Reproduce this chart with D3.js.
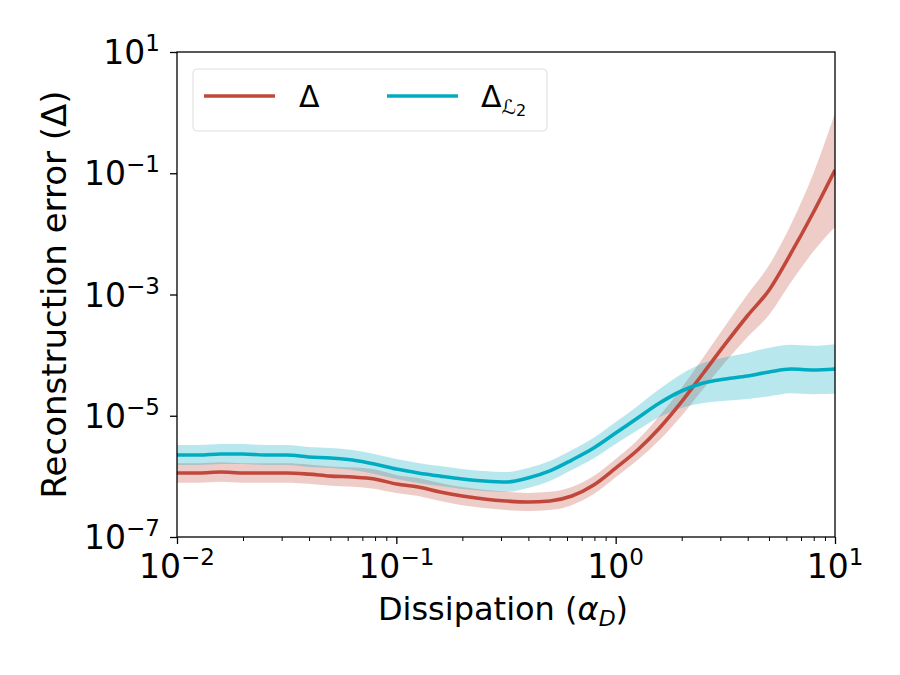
<!DOCTYPE html>
<html>
<head>
<meta charset="UTF-8">
<title>Reconstruction error</title>
<script src="https://cdn.jsdelivr.net/npm/d3@7"></script>
<style>
  body { margin: 0; background: #fff; }
  text { font-family: "DejaVu Sans", sans-serif; fill: #000; }
</style>
</head>
<body>
<div id="app"></div>
<script>
    // dissipation values (log10 spaced, 10^-2 .. 10^1)
    var logAlpha = d3.range(-2, 1.001, 0.1);
    // reconstruction error, mean curves
    var delta = [1.14e-6, 1.14e-6, 1.18e-6, 1.14e-6, 1.14e-6, 1.14e-6, 1.09e-6, 1.01e-6, 9.77e-7, 9.06e-7,
                 7.48e-7, 6.68e-7, 5.52e-7, 4.74e-7, 4.24e-7, 3.93e-7, 3.78e-7, 3.93e-7, 4.74e-7, 7.21e-7,
                 1.37e-6, 2.72e-6, 6.28e-6, 1.69e-5, 5.07e-5, 1.53e-4, 4.42e-4, 1.19e-3, 4.84e-3, 2.21e-2, 1.13e-1];
    var deltaL2 = [2.25e-6, 2.25e-6, 2.34e-6, 2.34e-6, 2.25e-6, 2.25e-6, 2.09e-6, 2.01e-6, 1.86e-6, 1.60e-6,
                   1.32e-6, 1.14e-6, 1.01e-6, 9.06e-7, 8.39e-7, 8.07e-7, 9.40e-7, 1.23e-6, 1.86e-6, 2.94e-6,
                   5.19e-6, 9.18e-6, 1.62e-5, 2.56e-5, 3.47e-5, 4.04e-5, 4.53e-5, 5.27e-5, 5.90e-5, 5.69e-5, 5.90e-5];
    // band half-width, in decades
    var deltaSpread = [0.16, 0.16, 0.16, 0.16, 0.16, 0.16, 0.16, 0.16, 0.16, 0.16,
                       0.15, 0.15, 0.15, 0.15, 0.15, 0.15, 0.15, 0.15, 0.15, 0.15,
                       0.15, 0.165, 0.2, 0.23, 0.26, 0.3, 0.35, 0.41, 0.48, 0.64, 0.94];
    var deltaL2Spread = [0.165, 0.165, 0.165, 0.165, 0.165, 0.165, 0.165, 0.165, 0.165, 0.165,
                         0.165, 0.165, 0.165, 0.165, 0.165, 0.165, 0.165, 0.165, 0.165, 0.17,
                         0.18, 0.2, 0.23, 0.28, 0.33, 0.36, 0.38, 0.4, 0.4, 0.4, 0.41];
    var xTicks = [1e-2, 1e-1, 1e0, 1e1];
    var yTicks = [1e-7, 1e-5, 1e-3, 1e-1, 1e1];

    var red = '#c1473b', cyan = '#00acc1';
    var W = 900, H = 675;
    var m = {left: 177, right: 65, top: 52, bottom: 138};

    var svg = d3.select('#app').append('svg').attr('width', W).attr('height', H);

    var x = d3.scaleLog().domain([1e-2, 1e1]).range([m.left, W - m.right]);
    var y = d3.scaleLog().domain([1e-7, 1e1]).range([H - m.bottom, m.top]);

    svg.append('clipPath').attr('id', 'clip')
        .append('rect').attr('x', m.left).attr('y', m.top)
        .attr('width', W - m.left - m.right).attr('height', H - m.top - m.bottom);

    function rows(vals, spread) {
        return logAlpha.map(function(l, i) {
            return {a: Math.pow(10, l), v: vals[i], lo: vals[i] / Math.pow(10, spread[i]), hi: vals[i] * Math.pow(10, spread[i])};
        });
    }
    var series = [
        {data: rows(delta, deltaSpread), color: red},
        {data: rows(deltaL2, deltaL2Spread), color: cyan}
    ];

    var area = d3.area().x(function(d){ return x(d.a); })
        .y0(function(d){ return y(d.lo); }).y1(function(d){ return y(d.hi); })
        .curve(d3.curveMonotoneX);
    var line = d3.line().x(function(d){ return x(d.a); }).y(function(d){ return y(d.v); })
        .curve(d3.curveMonotoneX);

    var plot = svg.append('g').attr('clip-path', 'url(#clip)');
    series.forEach(function(s) {
        plot.append('path').attr('d', area(s.data)).attr('fill', s.color).attr('opacity', 0.28);
    });
    series.forEach(function(s) {
        plot.append('path').attr('d', line(s.data)).attr('fill', 'none')
            .attr('stroke', s.color).attr('stroke-width', 3.6);
    });

    // axes
    var minorX = [];
    [1e-2, 1e-1, 1].forEach(function(b){ for (var k = 2; k < 10; k++) minorX.push(b * k); });
    svg.append('g').attr('transform', 'translate(0,' + (H - m.bottom) + ')')
        .call(d3.axisBottom(x).tickValues(minorX).tickSize(4).tickFormat(''))
        .call(function(g){ g.select('.domain').remove(); g.selectAll('line').attr('stroke-width', 1); });
    svg.append('g').attr('transform', 'translate(0,' + (H - m.bottom) + ')')
        .call(d3.axisBottom(x).tickValues(xTicks).tickSize(7).tickFormat(''))
        .call(function(g){ g.select('.domain').remove(); g.selectAll('line').attr('stroke-width', 1.3); });
    svg.append('g').attr('transform', 'translate(' + m.left + ',0)')
        .call(d3.axisLeft(y).tickValues(yTicks).tickSize(7).tickFormat(''))
        .call(function(g){ g.select('.domain').remove(); g.selectAll('line').attr('stroke-width', 1.3); });

    svg.append('rect').attr('x', m.left).attr('y', m.top)
        .attr('width', W - m.left - m.right).attr('height', H - m.top - m.bottom)
        .attr('fill', 'none').attr('stroke', '#000').attr('stroke-width', 1.3);

    function powLabel(sel, v) {
        var e = Math.round(Math.log10(v));
        sel.append('tspan').text('10');
        sel.append('tspan').attr('dy', -13).attr('font-size', 23).text(e < 0 ? '\u2212' + (-e) : e);
    }
    xTicks.forEach(function(v) {
        var t = svg.append('text').attr('x', x(v)).attr('y', 578)
            .attr('text-anchor', 'middle').attr('font-size', 33);
        powLabel(t, v);
    });
    yTicks.forEach(function(v) {
        var t = svg.append('text').attr('x', m.left - 17).attr('y', y(v) + 12)
            .attr('text-anchor', 'end').attr('font-size', 33);
        powLabel(t, v);
    });

    // axis titles
    var xl = svg.append('text').attr('x', 503).attr('y', 620)
        .attr('text-anchor', 'middle').attr('font-size', 32);
    xl.append('tspan').text('Dissipation (');
    xl.append('tspan').attr('font-style', 'italic').text('\u03b1');
    xl.append('tspan').attr('font-style', 'italic').attr('font-size', 22).attr('dy', 6).text('D');
    xl.append('tspan').attr('dy', -6).text(')');

    svg.append('text').attr('transform', 'translate(66,' + ((m.top + H - m.bottom) / 2) + ') rotate(-90)')
        .attr('text-anchor', 'middle').attr('font-size', 34).text('Reconstruction error (\u0394)');

    // legend
    var lg = svg.append('g');
    lg.append('rect').attr('x', 193).attr('y', 69).attr('width', 354).attr('height', 62).attr('rx', 4)
        .attr('fill', '#fff').attr('fill-opacity', 0.8).attr('stroke', '#ddd').attr('stroke-width', 1);
    lg.append('line').attr('x1', 204).attr('x2', 275).attr('y1', 96).attr('y2', 96)
        .attr('stroke', red).attr('stroke-width', 3.6);
    lg.append('text').attr('x', 299).attr('y', 107).attr('font-size', 30).text('\u0394');
    lg.append('line').attr('x1', 387).attr('x2', 458).attr('y1', 96).attr('y2', 96)
        .attr('stroke', cyan).attr('stroke-width', 3.6);
    var l2 = lg.append('text').attr('x', 481).attr('y', 107).attr('font-size', 30);
    l2.append('tspan').text('\u0394');
    l2.append('tspan').attr('font-size', 20).attr('font-style', 'italic').attr('dy', 7).text('\u2112');
    l2.append('tspan').attr('font-size', 16).attr('dy', 2).text('2');
</script>
</body>
</html>
